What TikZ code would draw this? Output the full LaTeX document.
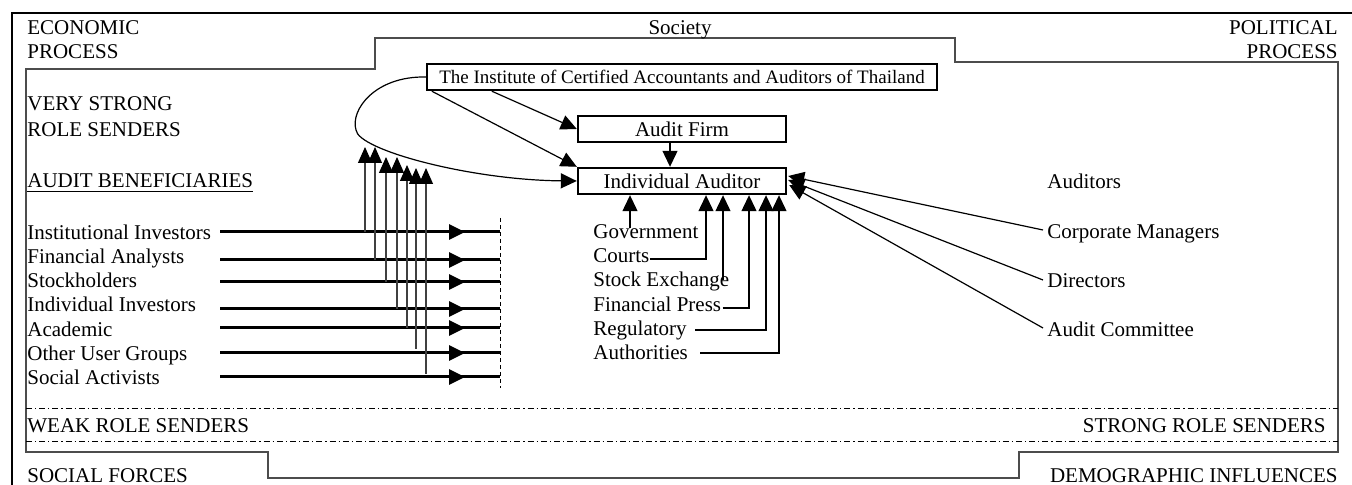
\documentclass[tikz,border=0pt]{standalone}
\usepackage{fontspec}
\setmainfont{Liberation Serif}
\usetikzlibrary{arrows.meta,calc}
\begin{document}
\begin{tikzpicture}[x=0.5pt,y=-0.5pt,
  lbl/.style={anchor=base west,inner sep=0pt,font=\fontsize{10.5}{12}\selectfont},
  lblr/.style={anchor=base east,inner sep=0pt,font=\fontsize{10.5}{12}\selectfont},
  box/.style={draw,line width=1.2pt,inner sep=0pt,minimum height=13pt,font=\fontsize{10.5}{12}\selectfont},
  tip/.style={-{Triangle[length=8pt,width=7.5pt]}},
  conn/.style={line width=0.6pt},
  bound/.style={line width=0.6pt,draw=black!70},
  dashdot/.style={line width=0.5pt,dash pattern=on 3pt off 1.5pt on 0.6pt off 1.5pt},
  beam/.style={line width=1.5pt},
  riser/.style={line width=0.6pt,draw=black!75,-{Triangle[length=8pt,width=7pt,color=black]}},
]
\useasboundingbox (0,0) rectangle (1352,485);

% outer frame and inner society boundary
\draw[line width=1.3pt] (12,485) -- (12,13) -- (1352,13);
\draw[bound] (26,452) -- (26,69) -- (375,69) -- (375,38) -- (955,38) -- (955,62)
  -- (1338,62) -- (1338,452) -- (1019,452) -- (1019,478) -- (268,478) -- (268,452) -- cycle;
\draw[dashdot] (26,409) -- (1338,409);
\draw[dashdot] (26,441) -- (1338,441);

% corner and band labels
\node[lbl] (econ) at (27,35) {ECONOMIC};
\node[lbl] (econb) at (27,59) {PROCESS};
\node[lbl,anchor=base] (soc) at (680,35) {Society};
\node[lblr] (pol) at (1338,35) {POLITICAL};
\node[lblr] (polb) at (1338,59) {PROCESS};
\node[lbl] (vs) at (27,111) {VERY STRONG};
\node[lbl] (vsb) at (27,137) {ROLE SENDERS};
\node[lbl] (ab) at (27,188) {\underline{AUDIT BENEFICIARIES}};
\node[lbl] (weak) at (27,432) {WEAK ROLE SENDERS};
\node[lblr] (strong) at (1326,432) {STRONG ROLE SENDERS};
\node[lbl] (socf) at (27,482) {SOCIAL FORCES};
\node[lblr] (demo) at (1338,482) {DEMOGRAPHIC INFLUENCES};

% central boxes
\node[box,minimum width=255pt,font=\fontsize{9.5}{11}\selectfont] (inst) at (682,77)
  {The Institute of Certified Accountants and Auditors of Thailand};
\node[box,minimum width=104pt] (af) at (682,129) {Audit Firm};
\node[box,minimum width=104pt] (ia) at (682,181) {Individual Auditor};

% institute links
\draw[conn,tip] ($(inst.south west)+(66,0)$) -- (af.west);
\draw[conn,tip] ($(inst.south west)+(6,0)$) -- (ia.north west);
\coordinate (afx) at (670,0);
\draw[conn,tip] (af.south -| afx) -- (ia.north -| afx);
\draw[conn,tip] (inst.west) .. controls (375,76) and (350,110) .. (356,130)
  .. controls (358,150) and (470,180) .. (ia.west);

% audit beneficiaries
\foreach \n/\t/\b/\l in {1/Institutional Investors/240/232, 2/Financial Analysts/264/260,
  3/Stockholders/288/282, 4/Individual Investors/312/309, 5/Academic/337/328,
  6/Other User Groups/361/353, 7/Social Activists/385/377} {
  \node[lbl] (ben\n) at (27,\b) {\t};
  \coordinate (bs\n) at (220,\l);
  \coordinate (be\n) at (500,\l);
  \draw[beam] (bs\n) -- (be\n);
  \draw[beam,tip] (bs\n) -- ($(bs\n)!0.875!(be\n)$);
}
\coordinate (dtop) at (500,218);
\coordinate (dbot) at (500,388);
\draw[line width=0.5pt,dash pattern=on 2pt off 1.5pt] (dtop) -- (dbot);

% risers towards the institute curve
\foreach \n/\a/\b/\c in {1/365/232/147, 2/375/260/147, 3/386/282/157, 4/397/309/157,
  5/407/328/165, 6/416/349/168, 7/426/374/168} {
  \coordinate (rs\n) at (\a,\b);
  \coordinate (rt\n) at (\a,\c);
  \draw[riser] (rs\n) -- (rt\n);
}

% public oversight bodies
\node[lbl] (gov) at (593,239) {Government};
\node[lbl] (crt) at (593,263) {Courts};
\node[lbl] (sx) at (593,287) {Stock Exchange};
\node[lbl] (fp) at (593,312) {Financial Press};
\node[lbl] (reg) at (593,336) {Regulatory};
\node[lbl] (auth) at (593,360) {Authorities};
\coordinate (g1) at (630,228);
\coordinate (g2) at (706,0);
\coordinate (g3) at (723,280);
\coordinate (g4) at (749,0);
\coordinate (g5) at (766,0);
\coordinate (g6) at (779,0);
\draw[conn,tip] (g1) -- (ia.south -| g1);
\draw[conn,tip] ($(crt.base east)+(0,-4)$) -| (ia.south -| g2);
\draw[conn,tip] (g3) -- (ia.south -| g3);
\draw[conn,tip] ($(fp.base east)+(1,-4)$) -| (ia.south -| g4);
\draw[conn,tip] ($(reg.base east)+(8,-6)$) -| (ia.south -| g5);
\draw[conn,tip] ($(auth.base east)+(12,-7)$) -| (ia.south -| g6);

% corporate side
\node[lbl] (aud) at (1047,189) {Auditors};
\node[lbl] (cm) at (1047,239) {Corporate Managers};
\node[lbl] (dir) at (1047,288) {Directors};
\node[lbl] (ac) at (1047,337) {Audit Committee};
\draw[conn,tip] ($(cm.base west)+(-4,-9)$) -- ($(ia.east)+(1,-5)$);
\draw[conn,tip] ($(dir.base west)+(-4,-8)$) -- ($(ia.east)+(1,-1)$);
\draw[conn,tip] ($(ac.base west)+(-4,-9)$) -- ($(ia.east)+(2,4)$);
\end{tikzpicture}
\end{document}
